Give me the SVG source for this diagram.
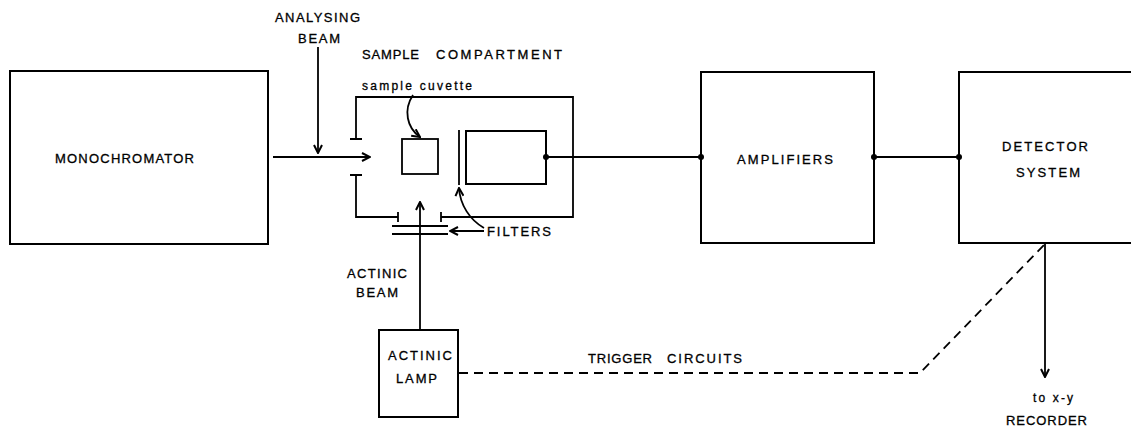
<svg xmlns="http://www.w3.org/2000/svg" width="1131" height="431" viewBox="0 0 1131 431">
<style>
.box{fill:none;stroke:#000;stroke-width:2}
.ln{fill:none;stroke:#000;stroke-width:1.8}
.dash{fill:none;stroke:#000;stroke-width:1.8;stroke-dasharray:9 6}
.t{font-family:"Liberation Sans",Arial,sans-serif;font-size:13px;fill:#000;stroke:#000;stroke-width:0.3}
.s{font-family:"Liberation Sans",Arial,sans-serif;font-size:12px;fill:#000;stroke:#000;stroke-width:0.3}
</style>
<defs>
<marker id="ah" viewBox="0 0 10 10" refX="9" refY="5" markerWidth="10" markerHeight="10" markerUnits="userSpaceOnUse" orient="auto">
<path d="M1,1 L9,5 L1,9" fill="none" stroke="#000" stroke-width="2"/>
</marker>
</defs>
<rect width="1131" height="431" fill="#fff"/>

<g id="monochromator">
<rect class="box" x="10" y="71" width="258" height="173"/>
<text class="t" x="55" y="163" textLength="139" lengthAdjust="spacing">MONOCHROMATOR</text>
</g>

<g id="sample-compartment">
<text class="t" x="362" y="59" textLength="57" lengthAdjust="spacing">SAMPLE</text>
<text class="t" x="436" y="59" textLength="126" lengthAdjust="spacing">COMPARTMENT</text>
<path class="ln" d="M356,139 L356,97 L573,97 L573,217 L441,217 M356,175 L356,217 L398,217"/>
<path class="ln" d="M350,139 L362,139 M350,175 L362,175 M398,212 L398,222 M441,212 L441,222"/>
<rect class="ln" x="402" y="139" width="36" height="35"/>
<line class="ln" x1="459" y1="130" x2="459" y2="185" stroke-width="2.2"/>
<path class="ln" d="M392,226 L448,226 M392,234 L448,234"/>
<text class="s" x="362" y="90" textLength="110" lengthAdjust="spacing">sample cuvette</text>
<path class="ln" d="M413,95 C403,110 407,128 420,137" marker-end="url(#ah)" stroke-width="1.5"/>
<text class="t" x="487" y="236" textLength="64" lengthAdjust="spacing">FILTERS</text>
<path class="ln" d="M484,228 C470,220 460,205 459,188" marker-end="url(#ah)" stroke-width="1.5"/>
<line class="ln" x1="484" y1="231" x2="450" y2="231" marker-end="url(#ah)" stroke-width="1.5"/>
</g>

<g id="photodetector">
<rect class="box" x="466" y="131" width="80" height="53"/>
</g>

<g id="amplifiers">
<rect class="box" x="701" y="72" width="173" height="171"/>
<text class="t" x="737" y="164" textLength="96" lengthAdjust="spacing">AMPLIFIERS</text>
</g>

<g id="detector-system">
<rect class="box" x="959" y="72" width="190" height="171"/>
<text class="t" x="1002" y="151" textLength="86" lengthAdjust="spacing">DETECTOR</text>
<text class="t" x="1016" y="177" textLength="64" lengthAdjust="spacing">SYSTEM</text>
</g>

<g id="actinic-lamp">
<rect class="box" x="379" y="330" width="79" height="87"/>
<text class="t" x="388" y="360" textLength="64" lengthAdjust="spacing">ACTINIC</text>
<text class="t" x="396" y="383" textLength="41" lengthAdjust="spacing">LAMP</text>
</g>

<g id="labels">
<text class="t" x="275" y="22" textLength="85" lengthAdjust="spacing">ANALYSING</text>
<text class="t" x="298" y="43" textLength="42" lengthAdjust="spacing">BEAM</text>
<text class="t" x="347" y="278" textLength="60" lengthAdjust="spacing">ACTINIC</text>
<text class="t" x="356" y="297" textLength="42" lengthAdjust="spacing">BEAM</text>
<text class="t" x="588" y="363" textLength="64" lengthAdjust="spacing">TRIGGER</text>
<text class="t" x="667" y="363" textLength="75" lengthAdjust="spacing">CIRCUITS</text>
<text class="s" x="1033" y="402" textLength="40" lengthAdjust="spacing">to x-y</text>
<text class="t" x="1006" y="425" textLength="81" lengthAdjust="spacing">RECORDER</text>
</g>

<g id="connectors">
<line class="ln" x1="273" y1="157" x2="370" y2="157" marker-end="url(#ah)"/>
<line class="ln" x1="318" y1="47" x2="318" y2="153" marker-end="url(#ah)"/>
<line class="ln" x1="420" y1="330" x2="420" y2="202" marker-end="url(#ah)"/>
<line class="ln" x1="546" y1="157" x2="701" y2="157"/>
<line class="ln" x1="874" y1="157" x2="959" y2="157"/>
<circle cx="546" cy="157" r="3" fill="#000"/>
<circle cx="701" cy="157" r="3" fill="#000"/>
<circle cx="874" cy="157" r="3" fill="#000"/>
<circle cx="959" cy="157" r="3" fill="#000"/>
<line class="ln" x1="1045" y1="243" x2="1045" y2="377" marker-end="url(#ah)"/>
<path class="dash" d="M459,373 L920,373 L1044,245"/>
</g>
</svg>
